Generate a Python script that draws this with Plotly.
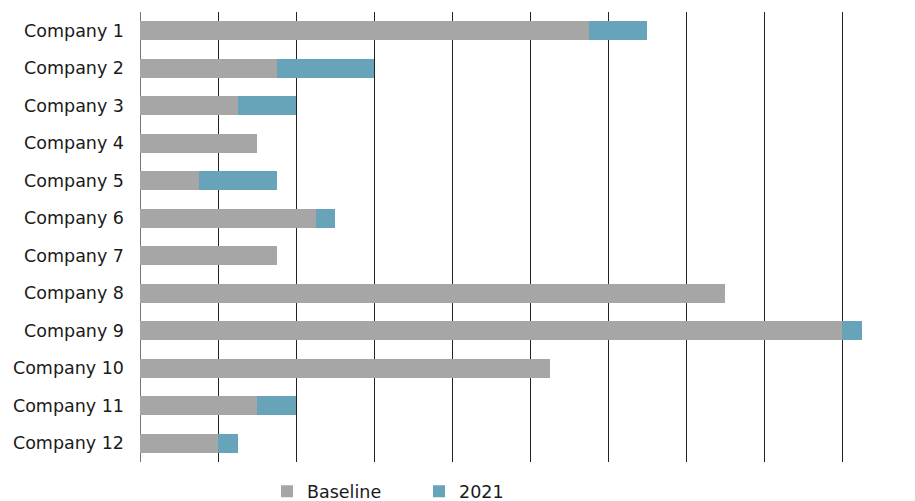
import plotly.graph_objects as go

companies = [f"Company {i}" for i in range(1, 13)]
baseline = [5.75, 1.75, 1.25, 1.5, 0.75, 2.25, 1.75, 7.5, 9.0, 5.25, 1.5, 1.0]
y2021 = [0.75, 1.25, 0.75, 0, 1.0, 0.25, 0, 0, 0.25, 0, 0.5, 0.25]

fig = go.Figure()
fig.add_trace(go.Bar(y=companies, x=baseline, orientation="h", name="Baseline",
                     marker=dict(color="#a6a6a6", line=dict(width=0))))
fig.add_trace(go.Bar(y=companies, x=y2021, orientation="h", name="2021",
                     marker=dict(color="#67a3b9", line=dict(width=0))))

fig.update_layout(
    barmode="stack",
    bargap=0.49,
    width=915, height=501,
    margin=dict(l=140, r=34, t=12, b=39, autoexpand=False),
    paper_bgcolor="white", plot_bgcolor="white",
    font=dict(family="DejaVu Sans", size=17.5, color="#1a1a1a"),
    showlegend=True,
    legend=dict(orientation="h", x=(267 - 140) / 741, xanchor="left", y=-0.025, yanchor="top",
                font=dict(size=17.5), entrywidth=107, itemwidth=30,
                traceorder="normal", bgcolor="rgba(0,0,0,0)"),
    xaxis=dict(range=[0, 9.5], dtick=1, tick0=0, showgrid=True, gridcolor="#222", gridwidth=1,
               showticklabels=False, zeroline=True, zerolinecolor="#777", zerolinewidth=1,
               showline=False, ticks=""),
    yaxis=dict(autorange="reversed", showgrid=False, ticks="", ticklabelstandoff=15,
               showline=False),
)

fig.write_html("out.html")
